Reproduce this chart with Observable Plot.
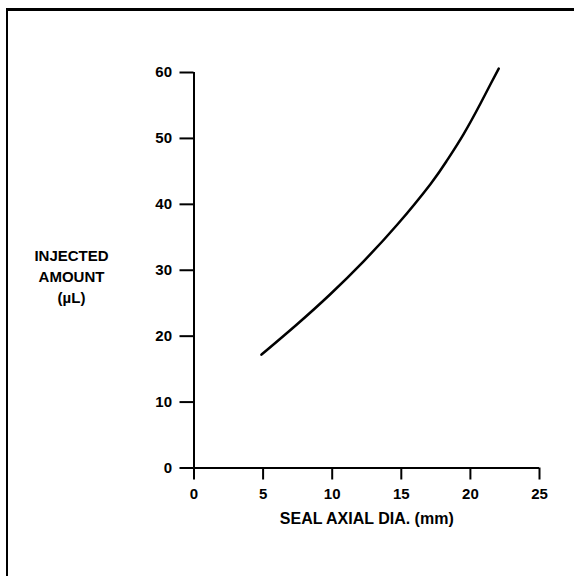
<!DOCTYPE html>
<html>
<head>
<meta charset="utf-8">
<script src="https://cdn.jsdelivr.net/npm/d3@7"></script>
<script src="https://cdn.jsdelivr.net/npm/@observablehq/plot@0.6"></script>
<style>
  html, body { margin: 0; padding: 0; background: #fff; }
  #wrap { position: relative; width: 574px; height: 576px; overflow: hidden; }
  #frame { position: absolute; left: 6px; top: 8px; right: -10px; bottom: -10px;
           border-left: 2.5px solid #000; border-top: 3px solid #000; }
  #chart { position: absolute; left: 0; top: 0; }
</style>
</head>
<body>
<div id="wrap"><div id="frame"></div><div id="chart"></div></div>
<script>
// Data
const sealDia = [4.88, 7.4, 9.88, 12.29, 14.7, 17.12, 18.32, 19.52, 20.73, 21.5, 22.05];
const injected = [17.2, 21.7, 26.4, 31.4, 36.9, 43.1, 46.7, 50.7, 55.3, 58.4, 60.6];
const xTicks = [0, 5, 10, 15, 20, 25];
const yTicks = [0, 10, 20, 30, 40, 50, 60];
const xLabel = "SEAL AXIAL DIA. (mm)";
const yLabel = "INJECTED\nAMOUNT\n(µL)";

const data = sealDia.map((x, i) => ({x, y: injected[i]}));
const font = "'Liberation Sans', Arial, Helvetica, sans-serif";

const chart = Plot.plot({
  width: 574,
  height: 576,
  marginLeft: 193.5,
  marginRight: 35,
  marginTop: 72,
  marginBottom: 108.5,
  style: {fontFamily: font, fontSize: "15px", fontWeight: "bold", color: "#000", background: "transparent"},
  x: {domain: [0, 25]},
  y: {domain: [0, 60]},
  marks: [
    Plot.axisY({ticks: yTicks, tickSize: 14, tickPadding: 8, strokeWidth: 2, label: null, tickFormat: d => d}),
    Plot.axisX({ticks: xTicks, tickSize: 12, tickPadding: 8, strokeWidth: 2, label: null, tickFormat: d => d}),
    Plot.ruleX([0], {y1: 0, y2: 60, strokeWidth: 2}),
    Plot.ruleY([0], {x1: 0, x2: 25, strokeWidth: 2}),
    Plot.line(data, {x: "x", y: "y", curve: "natural", stroke: "#000", strokeWidth: 2.5}),
    Plot.text([xLabel], {frameAnchor: "bottom", dy: 51, lineAnchor: "middle", fontSize: 16, fontWeight: "bold", fill: "#000"}),
    Plot.text([yLabel], {frameAnchor: "left", dx: -122.5, dy: 5.5, textAnchor: "middle", lineAnchor: "middle", lineHeight: 1.4, fontSize: 15, fontWeight: "bold", fill: "#000"})
  ]
});
document.getElementById("chart").appendChild(chart);
</script>
</body>
</html>
